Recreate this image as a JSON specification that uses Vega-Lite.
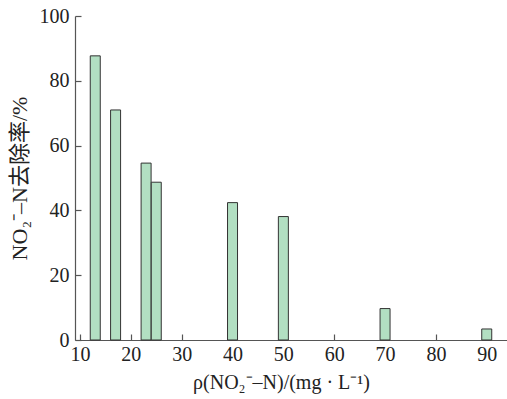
{
  "$schema": "https://vega.github.io/schema/vega-lite/v6.json",
  "width": 432,
  "height": 324,
  "autosize": "none",
  "padding": {"left": 75, "top": 16, "right": 0, "bottom": 59},
  "background": "white",
  "config": {
    "view": {"stroke": null},
    "font": "Liberation Serif",
    "axis": {
      "domainColor": "#555555",
      "tickColor": "#555555",
      "grid": false,
      "labelFont": "Liberation Serif",
      "titleFont": "Liberation Serif, Noto Sans CJK SC",
      "labelFontSize": 20,
      "titleFontSize": 20,
      "labelColor": "#222222",
      "titleColor": "#222222",
      "titleFontWeight": "normal",
      "tickSize": -6,
      "tickWidth": 1.2,
      "domainWidth": 1.2
    }
  },
  "data": {
    "values": [
      {"c": 13, "r": 87.7},
      {"c": 17, "r": 71.0},
      {"c": 23, "r": 54.6},
      {"c": 25, "r": 48.7},
      {"c": 40, "r": 42.4},
      {"c": 50, "r": 38.1},
      {"c": 70, "r": 9.7},
      {"c": 90, "r": 3.4}
    ]
  },
  "mark": {"type": "bar", "width": 10, "fill": "#b2dfc2", "stroke": "#333333", "strokeWidth": 1},
  "encoding": {
    "x": {
      "field": "c",
      "type": "quantitative",
      "scale": {"domain": [10, 93], "nice": false, "zero": false},
      "axis": {
        "values": [10, 20, 30, 40, 50, 60, 70, 80, 90],
        "labelPadding": 10,
        "title": "ρ(NO₂⁻–N)/(mg · L⁻¹)",
        "titleX": 206,
        "titlePadding": 8
      }
    },
    "y": {
      "field": "r",
      "type": "quantitative",
      "scale": {"domain": [0, 100], "nice": false},
      "axis": {
        "values": [0, 20, 40, 60, 80, 100],
        "labelPadding": 12,
        "title": "NO₂⁻–N去除率/%",
        "titleFontSize": 22,
        "titlePadding": 8
      }
    }
  }
}
